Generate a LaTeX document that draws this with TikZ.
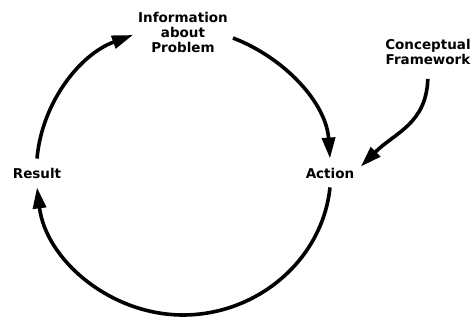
\documentclass[tikz,border=0pt]{standalone}
\usepackage{fontspec}
\newfontfamily\lblfont{DejaVu Sans}
\usetikzlibrary{arrows.meta}

\begin{document}
\begin{tikzpicture}[x=1pt,y=1pt,
	lbl/.style={font=\lblfont\bfseries\fontsize{13.5}{15}\selectfont,
		align=center, inner xsep=5pt, inner ysep=9pt},
	cyc/.style={line width=3.6pt, -{Triangle[length=21pt,width=13pt]}}]
	\useasboundingbox (0,0) rectangle (472,320);

	\node[lbl] (info) at (183,288) {Information\\about\\Problem};
	\node[lbl] (concept) at (428,268) {Conceptual\\Framework};
	\node[lbl] (result) at (37,147) {Result};
	\node[lbl] (action) at (330,147) {Action};
	\coordinate (bot) at (183,5);

	\draw[cyc] (result.north) to[out=85,in=200,looseness=0.92] ([yshift=-3pt]info.west);
	\draw[cyc] ([yshift=-6pt]info.east) to[out=-21,in=94,looseness=0.92] (action.north);
	\draw[cyc] (action.south) to[out=-96,in=0,looseness=0.97] (bot)
		to[out=180,in=-83,looseness=0.96] (result.south);
	\draw[cyc, shorten <=5pt, shorten >=2pt] (concept.south) to[out=-92,in=45,looseness=1.1] ([yshift=5pt]action.east);
\end{tikzpicture}
\end{document}
